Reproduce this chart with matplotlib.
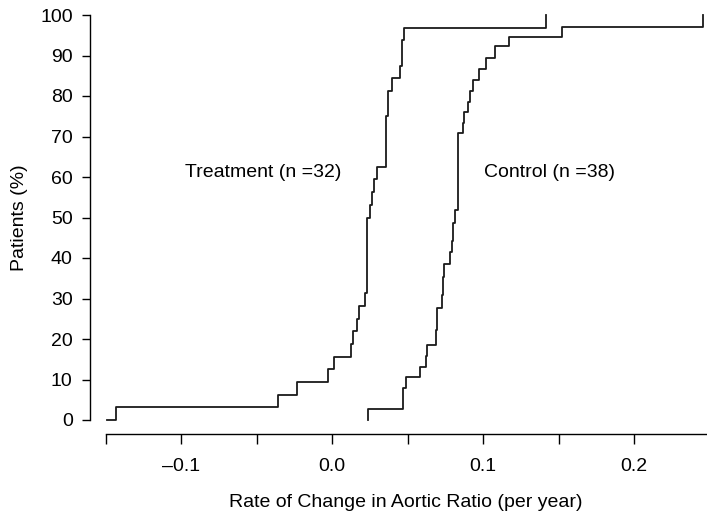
import numpy as np
import matplotlib
matplotlib.use("Agg")
import matplotlib.pyplot as plt

plt.rcParams['font.family'] = ['Liberation Sans', 'DejaVu Sans']

# step curves: x where the curve jumps, % level after jump
treat_x = [-0.1492, -0.1430, -0.0360, -0.0234, -0.0025, 0.0013, 0.0126, 0.0141,
           0.0164, 0.0179, 0.0219, 0.0234, 0.0252, 0.0267, 0.0280, 0.0301,
           0.0356, 0.0371, 0.0395, 0.0452, 0.0466, 0.0479, 0.1415]
treat_y = [0.0, 3.1, 6.25, 9.4, 12.5, 15.6, 18.75, 21.9,
           25.0, 28.1, 31.25, 50.0, 53.1, 56.25, 59.4, 62.5,
           75.0, 81.25, 84.4, 87.5, 93.75, 96.9, 100.0]

ctrl_x = [0.0236, 0.0236, 0.0472, 0.0488, 0.0583, 0.0621, 0.0631, 0.0689,
          0.0697, 0.0726, 0.0737, 0.0745, 0.0781, 0.0793, 0.0803, 0.0815,
          0.0832, 0.0866, 0.0876, 0.0899, 0.0914, 0.0932, 0.0975, 0.1018,
          0.1079, 0.1174, 0.1525, 0.2459]
ctrl_y = [0.0, 2.6, 7.9, 10.5, 13.2, 15.8, 18.4, 22.2,
          27.6, 30.9, 35.4, 38.4, 41.6, 44.2, 48.6, 51.9,
          70.9, 73.3, 76.1, 78.6, 81.3, 84.0, 86.7, 89.5,
          92.4, 94.5, 97.1, 100.0]

xticks = [-0.15, -0.1, -0.05, 0.0, 0.05, 0.1, 0.15, 0.2]
xticklabels = ['', '\u20130.1', '', '0.0', '', '0.1', '', '0.2']
yticks = list(range(0, 101, 10))

W, H = 707, 515
fs = 14
fig = plt.figure(figsize=(W / 100, H / 100), dpi=100)
ax = fig.add_axes([105.5 / W, (H - 420) / H, (W - 105.5) / W, 405 / H])

lc = '#1a1a1a'
ax.plot(treat_x, treat_y, drawstyle='steps-post', color=lc, lw=1.3, clip_on=False)
ax.plot(ctrl_x, ctrl_y, drawstyle='steps-post', color=lc, lw=1.3, clip_on=False)

ax.set_xlim(-0.15, (W - 332) / 1510)
ax.set_ylim(0, 100)

for s in ['top', 'right']:
    ax.spines[s].set_visible(False)
ax.spines['left'].set_position(('outward', 15.5 * 0.72))
ax.spines['bottom'].set_position(('outward', 14 * 0.72))
ax.spines['left'].set_bounds(0, 100)
ax.spines['left'].set_linewidth(1.0)
ax.spines['bottom'].set_linewidth(1.0)

ax.set_xticks(xticks)
ax.set_xticklabels(xticklabels)
ax.set_yticks(yticks)
ax.tick_params(axis='x', length=7.2, width=1.0, pad=10, labelsize=fs)
ax.tick_params(axis='y', length=5.5, width=1.0, pad=7, labelsize=fs)

ax.text(-0.0974, 61.2, 'Treatment (n =32)', fontsize=fs, va='center', ha='left')
ax.text(0.1007, 61.2, 'Control (n =38)', fontsize=fs, va='center', ha='left')

ax.set_xlabel('Rate of Change in Aortic Ratio (per year)', fontsize=fs)
ax.xaxis.set_label_coords((406 - 105.5) / (W - 105.5), (420 - 494) / 405)
ax.set_ylabel('Patients (%)', fontsize=fs)
ax.yaxis.set_label_coords((28 - 105.5) / (W - 105.5), 0.5)

fig.savefig('out.png', dpi=100)
